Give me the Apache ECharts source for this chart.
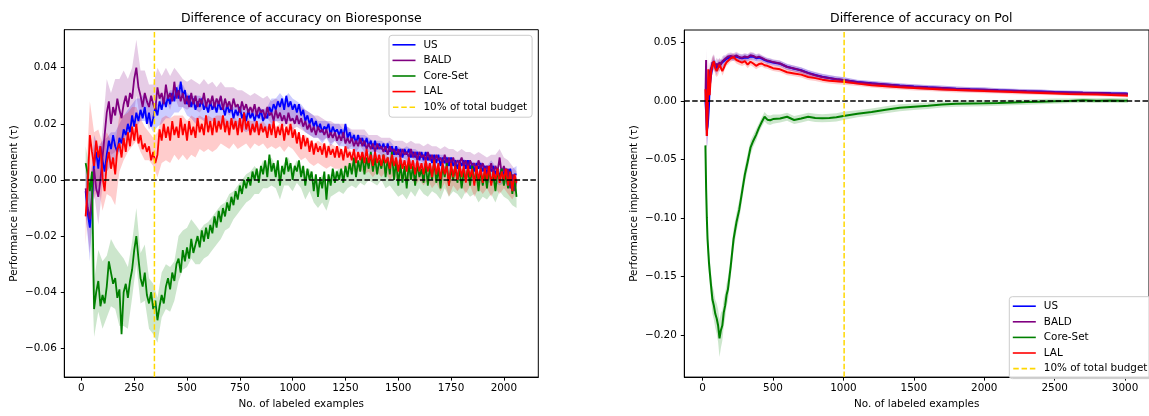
<!DOCTYPE html>
<html>
<head>
<meta charset="utf-8">
<script src="https://cdn.jsdelivr.net/npm/echarts@6/dist/echarts.min.js"></script>
<style>
html,body{margin:0;padding:0;background:#fff;}
#chart{width:1149px;height:416px;}
</style>
</head>
<body>
<div id="chart"></div>
<script>
// ---------- Left panel: Bioresponse ----------
// mean curves sampled at x = 20, 30, ..., 2060 ; bands (std) sampled at x = 20, 40, ..., 2060
const xStartL = 20, xStepL = 10, nL = 205, bandStepL = 20, nBandL = 103;
const US_L = [
-0.004,-0.012,-0.017,-0.008,0.006,0.010,0.004,0.012,0.007,0.003,0.009,0.014,0.011,0.016,0.012,0.010,0.015,0.013,0.018,0.016,
0.020,0.017,0.023,0.019,0.024,0.021,0.025,0.022,0.026,0.020,0.024,0.019,0.022,0.026,0.023,0.028,0.025,0.029,0.026,0.030,
0.027,0.031,0.028,0.033,0.029,0.035,0.030,0.032,0.027,0.030,0.026,0.029,0.025,0.028,0.026,0.029,0.025,0.027,0.024,0.028,
0.025,0.027,0.024,0.028,0.025,0.026,0.023,0.027,0.024,0.026,0.022,0.025,0.023,0.026,0.022,0.024,0.021,0.025,0.022,0.024,
0.021,0.024,0.022,0.025,0.021,0.023,0.022,0.026,0.024,0.027,0.025,0.028,0.026,0.029,0.025,0.030,0.026,0.028,0.025,0.027,
0.024,0.027,0.023,0.025,0.021,0.023,0.020,0.022,0.019,0.021,0.018,0.020,0.017,0.019,0.018,0.020,0.016,0.019,0.017,0.018,
0.016,0.018,0.015,0.020,0.015,0.017,0.014,0.016,0.013,0.016,0.013,0.015,0.012,0.015,0.012,0.014,0.011,0.014,0.011,0.013,
0.011,0.013,0.010,0.013,0.010,0.012,0.009,0.012,0.009,0.011,0.008,0.011,0.009,0.011,0.008,0.010,0.008,0.010,0.007,0.010,
0.007,0.010,0.007,0.009,0.006,0.009,0.006,0.009,0.005,0.008,0.006,0.008,0.005,0.008,0.005,0.007,0.004,0.007,0.005,0.007,
0.004,0.007,0.004,0.006,0.003,0.006,0.004,0.006,0.003,0.005,0.002,0.005,0.003,0.005,0.002,0.004,0.001,0.004,0.002,0.004,
0.001,0.004,0.000,0.002,0.002];
const BALD_L = [
-0.003,-0.010,-0.014,-0.006,0.004,-0.003,-0.006,0.000,0.008,0.016,0.024,0.028,0.020,0.026,0.023,0.029,0.025,0.022,0.027,0.030,
0.026,0.031,0.029,0.036,0.040,0.033,0.030,0.026,0.031,0.028,0.026,0.030,0.027,0.025,0.033,0.029,0.031,0.027,0.034,0.029,
0.031,0.028,0.035,0.029,0.032,0.028,0.031,0.027,0.030,0.026,0.031,0.027,0.030,0.026,0.029,0.027,0.031,0.026,0.029,0.027,
0.030,0.026,0.029,0.027,0.030,0.025,0.029,0.026,0.028,0.025,0.029,0.026,0.027,0.024,0.028,0.025,0.027,0.024,0.026,0.024,
0.027,0.023,0.026,0.024,0.025,0.022,0.026,0.023,0.024,0.021,0.025,0.022,0.024,0.021,0.023,0.020,0.024,0.021,0.022,0.020,
0.023,0.020,0.022,0.019,0.021,0.018,0.020,0.017,0.019,0.016,0.019,0.017,0.018,0.016,0.018,0.015,0.017,0.015,0.017,0.014,
0.016,0.014,0.017,0.013,0.015,0.013,0.015,0.012,0.014,0.012,0.015,0.012,0.014,0.011,0.013,0.011,0.013,0.010,0.013,0.011,
0.012,0.010,0.012,0.009,0.012,0.010,0.011,0.009,0.011,0.008,0.011,0.009,0.010,0.008,0.011,0.008,0.010,0.007,0.010,0.008,
0.009,0.007,0.010,0.007,0.009,0.006,0.009,0.007,0.008,0.006,0.009,0.005,0.008,0.006,0.008,0.005,0.007,0.006,0.008,0.005,
0.007,0.004,0.007,0.005,0.006,0.003,0.007,0.004,0.006,0.003,0.005,0.003,0.006,0.002,0.005,0.003,0.008,0.002,0.005,0.001,
0.004,-0.003,0.002,-0.004,0.000];
const CORE_L = [
0.006,0.002,-0.004,0.003,-0.046,-0.040,-0.036,-0.045,-0.041,-0.044,-0.038,-0.029,-0.033,-0.037,-0.035,-0.042,-0.039,-0.055,-0.040,-0.037,
-0.042,-0.036,-0.032,-0.025,-0.020,-0.028,-0.035,-0.038,-0.033,-0.041,-0.044,-0.040,-0.046,-0.043,-0.050,-0.045,-0.041,-0.044,-0.038,-0.035,
-0.039,-0.033,-0.036,-0.030,-0.028,-0.033,-0.025,-0.029,-0.024,-0.028,-0.021,-0.026,-0.023,-0.020,-0.024,-0.018,-0.022,-0.017,-0.021,-0.016,
-0.019,-0.013,-0.017,-0.011,-0.015,-0.010,-0.013,-0.008,-0.011,-0.006,-0.009,-0.004,-0.007,-0.002,-0.005,0.000,-0.003,0.001,-0.002,0.003,
0.000,0.004,-0.001,0.005,0.002,0.007,0.001,0.009,0.003,0.006,0.001,0.007,-0.002,0.005,0.002,0.008,0.003,0.006,0.000,0.005,
0.003,0.007,0.001,0.005,-0.002,0.004,0.000,0.003,-0.004,0.002,-0.006,0.001,-0.003,0.003,-0.007,0.002,-0.002,0.004,-0.001,0.003,
0.000,0.004,-0.001,0.005,0.001,0.006,0.002,0.008,0.001,0.007,0.003,0.009,0.002,0.008,0.004,0.010,0.003,0.008,0.002,0.007,
0.004,0.009,0.001,0.008,0.002,0.010,0.000,0.007,-0.002,0.006,-0.001,0.005,-0.003,0.006,0.000,0.005,-0.002,0.006,0.001,0.004,
-0.001,0.006,-0.002,0.005,0.000,0.007,-0.001,0.004,-0.003,0.005,0.001,0.006,-0.002,0.004,0.000,0.005,-0.001,0.004,-0.003,0.003,
0.000,0.004,-0.002,0.005,-0.001,0.003,-0.004,0.004,-0.002,0.003,-0.003,0.004,-0.001,0.002,-0.004,0.003,0.000,0.004,-0.002,0.002,
-0.003,0.003,-0.005,0.001,-0.006];
const LAL_L = [
-0.013,-0.002,0.016,0.010,0.005,0.014,0.008,0.012,0.001,-0.004,0.006,0.010,0.004,0.008,0.002,0.011,0.013,0.008,0.015,0.010,
0.017,0.012,0.019,0.014,0.020,0.013,0.016,0.011,0.013,0.010,0.012,0.007,0.010,0.006,0.009,0.018,0.014,0.020,0.015,0.019,
0.014,0.021,0.016,0.019,0.015,0.022,0.016,0.020,0.014,0.021,0.016,0.019,0.015,0.022,0.017,0.020,0.016,0.023,0.017,0.021,
0.016,0.022,0.017,0.021,0.018,0.023,0.017,0.021,0.016,0.022,0.018,0.021,0.016,0.022,0.017,0.024,0.018,0.021,0.016,0.020,
0.017,0.021,0.016,0.020,0.017,0.019,0.015,0.020,0.016,0.021,0.015,0.019,0.016,0.020,0.014,0.019,0.016,0.020,0.015,0.018,
0.013,0.017,0.011,0.016,0.012,0.015,0.010,0.014,0.009,0.013,0.010,0.012,0.009,0.013,0.008,0.012,0.009,0.011,0.008,0.012,
0.008,0.011,0.007,0.012,0.008,0.010,0.007,0.011,0.006,0.010,0.007,0.010,0.006,0.011,0.006,0.009,0.005,0.010,0.006,0.009,
0.005,0.009,0.006,0.008,0.004,0.009,0.005,0.008,0.003,0.008,0.004,0.007,0.003,0.008,0.004,0.007,0.002,0.007,0.003,0.006,
0.002,0.007,0.003,0.006,0.001,0.007,0.002,0.006,0.000,0.006,0.002,0.005,-0.002,0.006,0.001,0.005,0.000,0.006,0.001,0.005,
-0.001,0.005,0.001,0.004,-0.002,0.005,0.000,0.004,-0.001,0.004,0.000,0.005,-0.002,0.003,0.000,0.004,-0.001,0.003,0.000,0.004,
-0.002,0.003,-0.004,0.002,-0.001];
const US_SD_L = [
0.008,0.012,0.010,0.008,0.007,0.006,0.006,0.005,0.005,0.005,
0.005,0.004,0.005,0.004,0.005,0.004,0.005,0.004,0.005,0.004,
0.005,0.004,0.005,0.004,0.004,0.004,0.005,0.004,0.004,0.004,
0.004,0.004,0.005,0.004,0.004,0.004,0.004,0.004,0.004,0.004,
0.004,0.004,0.004,0.004,0.005,0.004,0.005,0.004,0.005,0.004,
0.004,0.004,0.004,0.004,0.004,0.003,0.004,0.003,0.004,0.003,
0.004,0.003,0.004,0.003,0.003,0.003,0.004,0.003,0.003,0.003,
0.003,0.003,0.004,0.003,0.003,0.003,0.003,0.003,0.003,0.003,
0.003,0.003,0.003,0.003,0.004,0.003,0.003,0.003,0.003,0.003,
0.003,0.003,0.003,0.003,0.003,0.003,0.004,0.003,0.003,0.003,
0.003,0.004,0.003];
const BALD_SD_L = [
0.010,0.012,0.009,0.010,0.010,0.012,0.011,0.013,0.011,0.012,
0.010,0.011,0.010,0.009,0.008,0.008,0.007,0.007,0.006,0.006,
0.006,0.005,0.006,0.005,0.005,0.005,0.005,0.005,0.005,0.005,
0.005,0.004,0.005,0.004,0.005,0.004,0.005,0.004,0.004,0.004,
0.004,0.004,0.004,0.004,0.004,0.004,0.004,0.004,0.004,0.004,
0.004,0.004,0.004,0.004,0.004,0.004,0.004,0.003,0.004,0.003,
0.004,0.003,0.004,0.003,0.004,0.003,0.004,0.003,0.003,0.003,
0.003,0.003,0.003,0.003,0.003,0.003,0.003,0.003,0.003,0.003,
0.003,0.003,0.003,0.003,0.003,0.003,0.003,0.003,0.003,0.003,
0.003,0.003,0.003,0.003,0.003,0.003,0.003,0.004,0.003,0.003,
0.003,0.003,0.003];
const CORE_SD_L = [
0.006,0.008,0.010,0.011,0.012,0.011,0.012,0.011,0.013,0.012,
0.011,0.010,0.010,0.009,0.010,0.009,0.009,0.008,0.008,0.008,
0.008,0.007,0.008,0.007,0.007,0.007,0.007,0.006,0.006,0.006,
0.006,0.006,0.006,0.005,0.006,0.005,0.005,0.005,0.005,0.005,
0.005,0.004,0.005,0.004,0.005,0.004,0.005,0.004,0.005,0.004,
0.004,0.004,0.005,0.004,0.004,0.004,0.005,0.004,0.004,0.004,
0.004,0.004,0.004,0.004,0.004,0.004,0.004,0.004,0.004,0.004,
0.004,0.004,0.004,0.004,0.004,0.004,0.004,0.004,0.004,0.004,
0.004,0.004,0.004,0.004,0.004,0.004,0.004,0.004,0.004,0.004,
0.004,0.004,0.004,0.004,0.004,0.004,0.004,0.004,0.004,0.004,
0.004,0.004,0.004];
const LAL_SD_L = [
0.010,0.012,0.012,0.010,0.012,0.011,0.010,0.011,0.010,0.008,
0.007,0.007,0.006,0.006,0.006,0.005,0.005,0.008,0.008,0.008,
0.008,0.007,0.008,0.007,0.007,0.007,0.007,0.006,0.006,0.006,
0.006,0.006,0.005,0.005,0.005,0.005,0.005,0.005,0.005,0.005,
0.004,0.004,0.004,0.004,0.004,0.004,0.004,0.004,0.004,0.004,
0.004,0.004,0.004,0.004,0.004,0.004,0.004,0.004,0.004,0.004,
0.004,0.003,0.004,0.003,0.004,0.003,0.004,0.003,0.004,0.003,
0.004,0.003,0.004,0.003,0.004,0.003,0.004,0.003,0.004,0.003,
0.004,0.003,0.004,0.003,0.004,0.003,0.004,0.003,0.004,0.003,
0.004,0.003,0.004,0.003,0.004,0.003,0.004,0.003,0.004,0.003,
0.003,0.003,0.003];

// ---------- Right panel: Pol ----------
const xR = [20,25,30,35,40,45,50,60,70,80,90,100,110,120,130,140,150,160,170,180,
200,220,240,260,280,300,320,340,360,380,400,420,440,460,480,500,
550,600,650,700,750,800,850,900,950,1000,
1100,1200,1300,1400,1500,1600,1700,1800,1900,2000,2100,2200,2300,2400,2500,2600,2700,2800,2900,3000,3020];
const US_R = [0.000,-0.010,-0.025,-0.022,-0.015,-0.004,0.012,
0.022,0.030,0.034,0.030,0.027,0.031,0.029,0.032,0.031,0.034,0.035,0.036,0.0368,
0.0375,0.0372,0.038,0.037,0.0365,0.0372,0.0368,0.038,0.0378,0.0365,0.037,0.0362,0.035,0.034,0.0335,0.0328,
0.0318,0.0292,0.0275,0.0262,0.024,0.0222,0.0207,0.0196,0.0186,0.0179,
0.0162,0.0151,0.0141,0.0131,0.0123,0.0116,0.0111,0.0104,0.0099,0.0096,0.0091,0.0087,0.0083,0.008,0.0076,0.0073,0.007,0.0068,0.0065,0.0063,
0.0062];
const BALD_R = [0.000,0.035,-0.030,-0.015,0.010,0.020,0.025,
0.028,0.033,0.031,0.029,0.032,0.030,0.033,0.031,0.034,0.035,0.036,0.037,0.038,
0.0385,0.0378,0.039,0.0375,0.037,0.038,0.0372,0.039,0.0385,0.037,0.0378,0.0368,0.0355,0.0345,0.034,0.0332,
0.032,0.029,0.0278,0.026,0.0238,0.022,0.0205,0.0195,0.0185,0.0178,
0.016,0.015,0.014,0.013,0.0122,0.0115,0.011,0.0103,0.0098,0.0095,0.009,0.0086,0.0082,0.0079,0.0075,0.0072,0.0069,0.0067,0.0064,0.0062,
0.006];
const CORE_R = [-0.038,-0.075,-0.100,-0.118,-0.128,-0.138,-0.145,
-0.158,-0.170,-0.175,-0.182,-0.186,-0.192,-0.203,-0.196,-0.192,-0.181,-0.175,-0.166,-0.161,
-0.141,-0.118,-0.104,-0.093,-0.078,-0.063,-0.052,-0.040,-0.034,-0.029,-0.023,-0.018,-0.0135,-0.016,-0.0165,-0.0155,
-0.015,-0.0135,-0.0163,-0.015,-0.0135,-0.0145,-0.0148,-0.0145,-0.014,-0.0128,
-0.011,-0.0095,-0.0075,-0.0058,-0.005,-0.0042,-0.0031,-0.0024,-0.0022,-0.002,-0.0017,-0.0013,-0.001,-0.0006,-0.0002,0.0,0.0005,0.0002,0.0004,0.0002,
0.0003];
const LAL_R = [0.010,0.000,-0.030,-0.010,0.027,0.015,0.005,
0.025,0.030,0.034,0.028,0.0255,0.027,0.031,0.030,0.0255,0.028,0.031,0.033,0.034,
0.0365,0.0375,0.035,0.0338,0.0328,0.034,0.031,0.0335,0.032,0.030,0.0315,0.032,0.0305,0.030,0.029,0.028,
0.027,0.0245,0.0235,0.0225,0.0205,0.0195,0.0182,0.0173,0.0168,0.0163,
0.0148,0.0135,0.0125,0.0117,0.011,0.0104,0.0098,0.0093,0.009,0.0085,0.0081,0.0076,0.0072,0.0068,0.0064,0.006,0.0057,0.0054,0.005,0.0046,
0.0045];
const US_SD_R = [0.006,0.012,0.015,0.015,0.012,0.010,0.008,
0.007,0.006,0.006,0.005,0.005,0.005,0.004,0.004,0.004,0.004,0.003,0.003,0.003,
0.003,0.003,0.003,0.003,0.003,0.003,0.003,0.003,0.003,0.003,0.003,0.0025,0.0025,0.0025,0.0025,0.0025,
0.0025,0.0025,0.0025,0.0025,0.0025,0.0025,0.0025,0.0025,0.0025,0.0025,
0.002,0.002,0.002,0.002,0.002,0.002,0.002,0.002,0.002,0.002,0.0018,0.0018,0.0018,0.0018,0.0016,0.0016,0.0016,0.0015,0.0015,0.0015,
0.0015];
const BALD_SD_R = [0.006,0.010,0.012,0.012,0.010,0.008,0.007,
0.006,0.006,0.005,0.005,0.005,0.005,0.004,0.004,0.004,0.004,0.003,0.003,0.003,
0.003,0.003,0.003,0.003,0.003,0.003,0.003,0.003,0.003,0.003,0.003,0.0025,0.0025,0.0025,0.0025,0.0025,
0.0025,0.0025,0.0025,0.0025,0.0025,0.0025,0.0025,0.0025,0.0025,0.0025,
0.002,0.002,0.002,0.002,0.002,0.002,0.002,0.002,0.002,0.002,0.0018,0.0018,0.0018,0.0018,0.0016,0.0016,0.0016,0.0015,0.0015,0.0015,
0.0015];
const CORE_SD_R = [0.004,0.006,0.008,0.009,0.010,0.010,0.011,
0.011,0.012,0.012,0.012,0.013,0.014,0.016,0.015,0.013,0.012,0.011,0.010,0.010,
0.009,0.009,0.008,0.008,0.008,0.007,0.007,0.006,0.005,0.005,0.004,0.004,0.004,0.004,0.004,0.004,
0.0035,0.0035,0.0035,0.0035,0.0035,0.0035,0.0035,0.0035,0.0035,0.0035,
0.003,0.003,0.003,0.003,0.0028,0.0028,0.0026,0.0026,0.0025,0.0025,0.0024,0.0024,0.0022,0.0022,0.0022,0.002,0.002,0.002,0.002,0.002,
0.002];
const LAL_SD_R = [0.008,0.012,0.012,0.012,0.010,0.009,0.008,
0.007,0.007,0.006,0.006,0.005,0.005,0.005,0.004,0.004,0.004,0.003,0.003,0.003,
0.003,0.003,0.003,0.003,0.003,0.003,0.003,0.003,0.003,0.003,0.003,0.0025,0.0025,0.0025,0.0025,0.0025,
0.0025,0.0025,0.0025,0.0025,0.0025,0.0025,0.0025,0.0025,0.0025,0.0025,
0.002,0.002,0.002,0.002,0.002,0.002,0.002,0.002,0.002,0.002,0.0018,0.0018,0.0018,0.0018,0.0016,0.0016,0.0016,0.0015,0.0015,0.0015,
0.0015];

const budgetL = 345.6;
const budgetR = 1005;
const xTicksL = [0,250,500,750,1000,1250,1500,1750,2000];
const yTicksL = [-0.06,-0.04,-0.02,0,0.02,0.04];
const xTicksR = [0,500,1000,1500,2000,2500,3000];
const yTicksR = [-0.20,-0.15,-0.10,-0.05,0,0.05];
const titles = ['Difference of accuracy on Bioresponse','Difference of accuracy on Pol'];
const methodNames = ['US','BALD','Core-Set','LAL'];
const budgetName = '10% of total budget';
const xLabel = 'No. of labeled examples';
const yLabel = 'Performance improvement (\u03c4)';

// ---------- Build ----------
const xL = []; for (let i = 0; i < nL; i++) xL.push(xStartL + xStepL * i);
const xBL = []; for (let i = 0; i < nBandL; i++) xBL.push(xStartL + bandStepL * i);
const pickEveryOther = arr => arr.filter((_, i) => i % 2 === 0);   // mean at the band sample x's
const colors = ['#0000ff','#800080','#008000','#ff0000'];
const bandColors = ['rgba(0,0,255,0.2)','rgba(128,0,128,0.2)','rgba(0,128,0,0.2)','rgba(255,0,0,0.2)'];
const FONT = 'DejaVu Sans';
const axMin = [{x:-81,y:-0.07025},{x:-130,y:-0.2361}];
const axMax = [{x:2163,y:0.05354},{x:3170,y:0.06064}];

function fmtY(v){ const s = Math.abs(v).toFixed(2); return v < -1e-9 ? '\u2212' + s : s; }

const series = [];
function addPanel(gi, xs, means, xb, centers, sds, lw) {
  means.forEach((m, k) => {
    const sd = sds[k], c = centers[k];
    series.push({
      type:'custom', name: methodNames[k] + ' band', xAxisIndex: gi, yAxisIndex: gi,
      data: xb.map((x,i) => [x, c[i] - sd[i], c[i] + sd[i]]),
      encode:{x:0, y:[1,2]},
      renderItem: function(params, api){
        if (params.dataIndex !== 0) return null;
        const up = [], lo = [];
        for (let i = 0; i < xb.length; i++) {
          up.push(api.coord([xb[i], c[i] + sd[i]]));
          lo.push(api.coord([xb[i], c[i] - sd[i]]));
        }
        lo.reverse();
        return {type:'polygon', shape:{points: up.concat(lo)}, style:{fill: bandColors[k]}};
      },
      silent:true, z:2
    });
    series.push({
      type:'line', name: methodNames[k], xAxisIndex: gi, yAxisIndex: gi,
      data: xs.map((x,i) => [x, m[i]]), symbol:'none', showSymbol:false,
      lineStyle:{color: colors[k], width: lw}, itemStyle:{color: colors[k]}, z:2
    });
  });
  series.push({
    type:'line', name:'zero', xAxisIndex: gi, yAxisIndex: gi,
    data: [[axMin[gi].x, 0],[axMax[gi].x, 0]], symbol:'none',
    lineStyle:{color:'#000', width:1.5, type:[5.5,2.4]}, itemStyle:{color:'#000'}, z:3, silent:true
  });
  const bx = gi === 0 ? budgetL : budgetR;
  series.push({
    type:'line', name: budgetName, xAxisIndex: gi, yAxisIndex: gi,
    data: [[bx, axMin[gi].y],[bx, axMax[gi].y]], symbol:'none',
    lineStyle:{color:'#ffd700', width:1.5, type:[5.5,2.4]}, itemStyle:{color:'#ffd700'}, z:3, silent:true
  });
}
const meansL = [US_L, BALD_L, CORE_L, LAL_L];
addPanel(0, xL, meansL, xBL, meansL.map(pickEveryOther), [US_SD_L, BALD_SD_L, CORE_SD_L, LAL_SD_L], 1.8);
const meansR = [US_R, BALD_R, CORE_R, LAL_R];
addPanel(1, xR, meansR, xR, meansR, [US_SD_R, BALD_SD_R, CORE_SD_R, LAL_SD_R], 2);

const solidIcon = 'path://M0,0H23V1.6H0Z';
const dashIcon = 'path://M0,0H5.5V1.6H0ZM8.3,0H13.8V1.6H8.3ZM16.6,0H22.1V1.6H16.6Z';
function legendData(){
  return methodNames.map(n => ({name:n, icon: solidIcon})).concat([{name: budgetName, icon: dashIcon}]);
}
function legendCfg(left, top){
  return {
    orient:'vertical', left:left, top:top, data: legendData(),
    itemWidth:23, itemHeight:1.6, itemGap:2.6, selectedMode:false,
    padding:[3,5,3.5,3.5], borderColor:'#cccccc', borderWidth:1, borderRadius:3,
    backgroundColor:'rgba(255,255,255,0.8)',
    itemStyle:{borderWidth:0},
    textStyle:{fontFamily:FONT, fontSize:10.4, color:'#000', lineHeight:13, padding:[0,0,0,3]}
  };
}

function xAxisCfg(gi, ticks){
  return {
    type:'value', gridIndex:gi, min:axMin[gi].x, max:axMax[gi].x,
    name: xLabel, nameLocation:'middle', nameGap:20.5,
    nameTextStyle:{fontFamily:FONT, fontSize:10.4, color:'#000', lineHeight:13},
    axisLine:{show:true, onZero:false, lineStyle:{color:'#000', width:1}},
    axisTick:{show:true, length:3.5, customValues: ticks, lineStyle:{color:'#000', width:1}},
    axisLabel:{customValues: ticks, fontFamily:FONT, fontSize:10.4, color:'#000', margin:6,
      formatter: v => String(v)},
    splitLine:{show:false}
  };
}
function yAxisCfg(gi, ticks){
  return {
    type:'value', gridIndex:gi, min:axMin[gi].y, max:axMax[gi].y,
    name: yLabel, nameLocation:'middle', nameGap:44, nameRotate:90,
    nameTextStyle:{fontFamily:FONT, fontSize:10.4, color:'#000', lineHeight:13},
    axisLine:{show:true, onZero:false, lineStyle:{color:'#000', width:1}},
    axisTick:{show:true, length:3.5, customValues: ticks, lineStyle:{color:'#000', width:1}},
    axisLabel:{customValues: ticks, fontFamily:FONT, fontSize:10.4, color:'#000', margin:7.5,
      formatter: fmtY},
    splitLine:{show:false}
  };
}

const option = {
  animation:false,
  backgroundColor:'#ffffff',
  textStyle:{fontFamily:FONT},
  title:[
    {text: titles[0], left:301.3, top:11.5, textAlign:'center', padding:0,
     textStyle:{fontFamily:FONT, fontSize:12.5, fontWeight:'normal', color:'#000', lineHeight:15}},
    {text: titles[1], left:921.3, top:11.5, textAlign:'center', padding:0,
     textStyle:{fontFamily:FONT, fontSize:12.5, fontWeight:'normal', color:'#000', lineHeight:15}}
  ],
  grid:[
    {left:64.3, top:29.7, width:474, height:352.8, show:true, borderColor:'#000', borderWidth:1, backgroundColor:'transparent'},
    {left:684.3, top:30, width:474, height:353.3, show:true, borderColor:'#000', borderWidth:1, backgroundColor:'transparent'}
  ],
  xAxis:[xAxisCfg(0, xTicksL), xAxisCfg(1, xTicksR)],
  yAxis:[yAxisCfg(0, yTicksL), yAxisCfg(1, yTicksR)],
  legend:[legendCfg(389, 35.3), legendCfg(1009.3, 296.7)],
  series: series
};

const chart = echarts.init(document.getElementById('chart'), null, {renderer:'canvas'});
chart.setOption(option);
</script>
</body>
</html>
